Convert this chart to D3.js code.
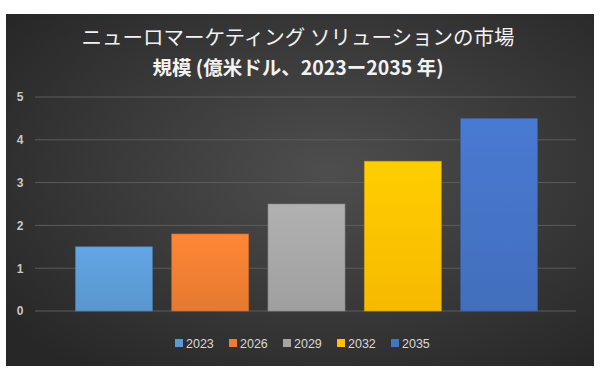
<!DOCTYPE html>
<html>
<head>
<meta charset="utf-8">
<script src="https://cdn.jsdelivr.net/npm/d3@7"></script>
<style>
  body { margin: 0; background: #fff; }
  svg { display: block; }
</style>
</head>
<body>
<script>
// chart data
var years = ["2023", "2026", "2029", "2032", "2035"];
var values = [1.5, 1.8, 2.5, 3.5, 4.5];
var colors = ["#5b9bd5", "#ed7d31", "#a5a5a5", "#ffc000", "#4472c4"];
var yTicks = [0, 1, 2, 3, 4, 5];
var titleLines = ["ニューロマーケティング ソリューションの市場", "規模 (億米ドル、2023ー2035 年)"];

var W = 600, H = 378;
var font = "'Noto Sans CJK JP', 'Liberation Sans', sans-serif";

var svg = d3.select("body").append("svg")
  .attr("width", W)
  .attr("height", H);

var defs = svg.append("defs");

var bg = defs.append("radialGradient")
  .attr("id", "bg")
  .attr("cx", "55%").attr("cy", "45%").attr("r", "70%");
bg.append("stop").attr("offset", "0%").attr("stop-color", "#4e4e4e");
bg.append("stop").attr("offset", "100%").attr("stop-color", "#272727");

colors.forEach(function (c, i) {
  var g = defs.append("linearGradient")
    .attr("id", "bar" + i)
    .attr("x1", 0).attr("y1", 0).attr("x2", 0).attr("y2", 1);
  g.append("stop").attr("offset", "0%").attr("stop-color", d3.color(c).brighter(0.2));
  g.append("stop").attr("offset", "100%").attr("stop-color", d3.color(c).darker(0.1));
});

// chart area
svg.append("rect")
  .attr("x", 6).attr("y", 14)
  .attr("width", 588).attr("height", 352)
  .attr("fill", "url(#bg)");

// title
svg.append("g").selectAll("text")
  .data(titleLines)
  .enter().append("text")
  .attr("x", 298)
  .attr("y", function (d, i) { return i === 0 ? 45 : 75; })
  .attr("text-anchor", "middle")
  .attr("fill", "#f2f2f2")
  .attr("font-family", font)
  .attr("font-size", function (d, i) { return i === 0 ? "20.5px" : "19.5px"; })
  .attr("font-weight", function (d, i) { return i === 1 ? "bold" : "normal"; })
  .text(function (d) { return d; });

var x = d3.scaleBand()
  .domain(years)
  .range([35, 578])
  .paddingInner(0.2)
  .paddingOuter(0.42);

var y = d3.scaleLinear()
  .domain([0, 5])
  .range([311, 97]);

// gridlines
svg.append("g").selectAll("line")
  .data(yTicks)
  .enter().append("line")
  .attr("x1", 35).attr("x2", 576)
  .attr("y1", function (d) { return y(d); })
  .attr("y2", function (d) { return y(d); })
  .attr("stroke", "#5c5c5c")
  .attr("stroke-width", 1);

// y axis labels
var yAxis = svg.append("g")
  .attr("transform", "translate(24,0)")
  .call(d3.axisLeft(y).tickValues(yTicks).tickSize(0).tickFormat(d3.format("d")));
yAxis.select(".domain").remove();
yAxis.selectAll("text")
  .attr("fill", "#c8c8c8")
  .attr("font-family", "'Liberation Sans', sans-serif")
  .attr("font-size", "12px")
  .attr("font-weight", "bold")
  .attr("text-anchor", "middle")
  .attr("x", -4);

// bars
svg.append("g").selectAll("rect")
  .data(values)
  .enter().append("rect")
  .attr("x", function (d, i) { return x(years[i]); })
  .attr("y", function (d) { return y(d); })
  .attr("width", x.bandwidth())
  .attr("height", function (d) { return y(0) - y(d); })
  .attr("fill", function (d, i) { return "url(#bar" + i + ")"; })
  .attr("stroke", function (d, i) { return d3.color(colors[i]).darker(0.6); })
  .attr("stroke-width", 0.6);

// legend
var legend = svg.append("g").selectAll("g")
  .data(years)
  .enter().append("g")
  .attr("transform", function (d, i) { return "translate(" + (175 + i * 54) + ",343)"; });
legend.append("rect")
  .attr("x", 0).attr("y", -4)
  .attr("width", 8).attr("height", 8)
  .attr("fill", function (d, i) { return colors[i]; });
legend.append("text")
  .attr("x", 11).attr("y", 4.5)
  .attr("fill", "#d9d9d9")
  .attr("font-family", "'Liberation Sans', sans-serif")
  .attr("font-size", "12.5px")
  .text(function (d) { return d; });
</script>
</body>
</html>
